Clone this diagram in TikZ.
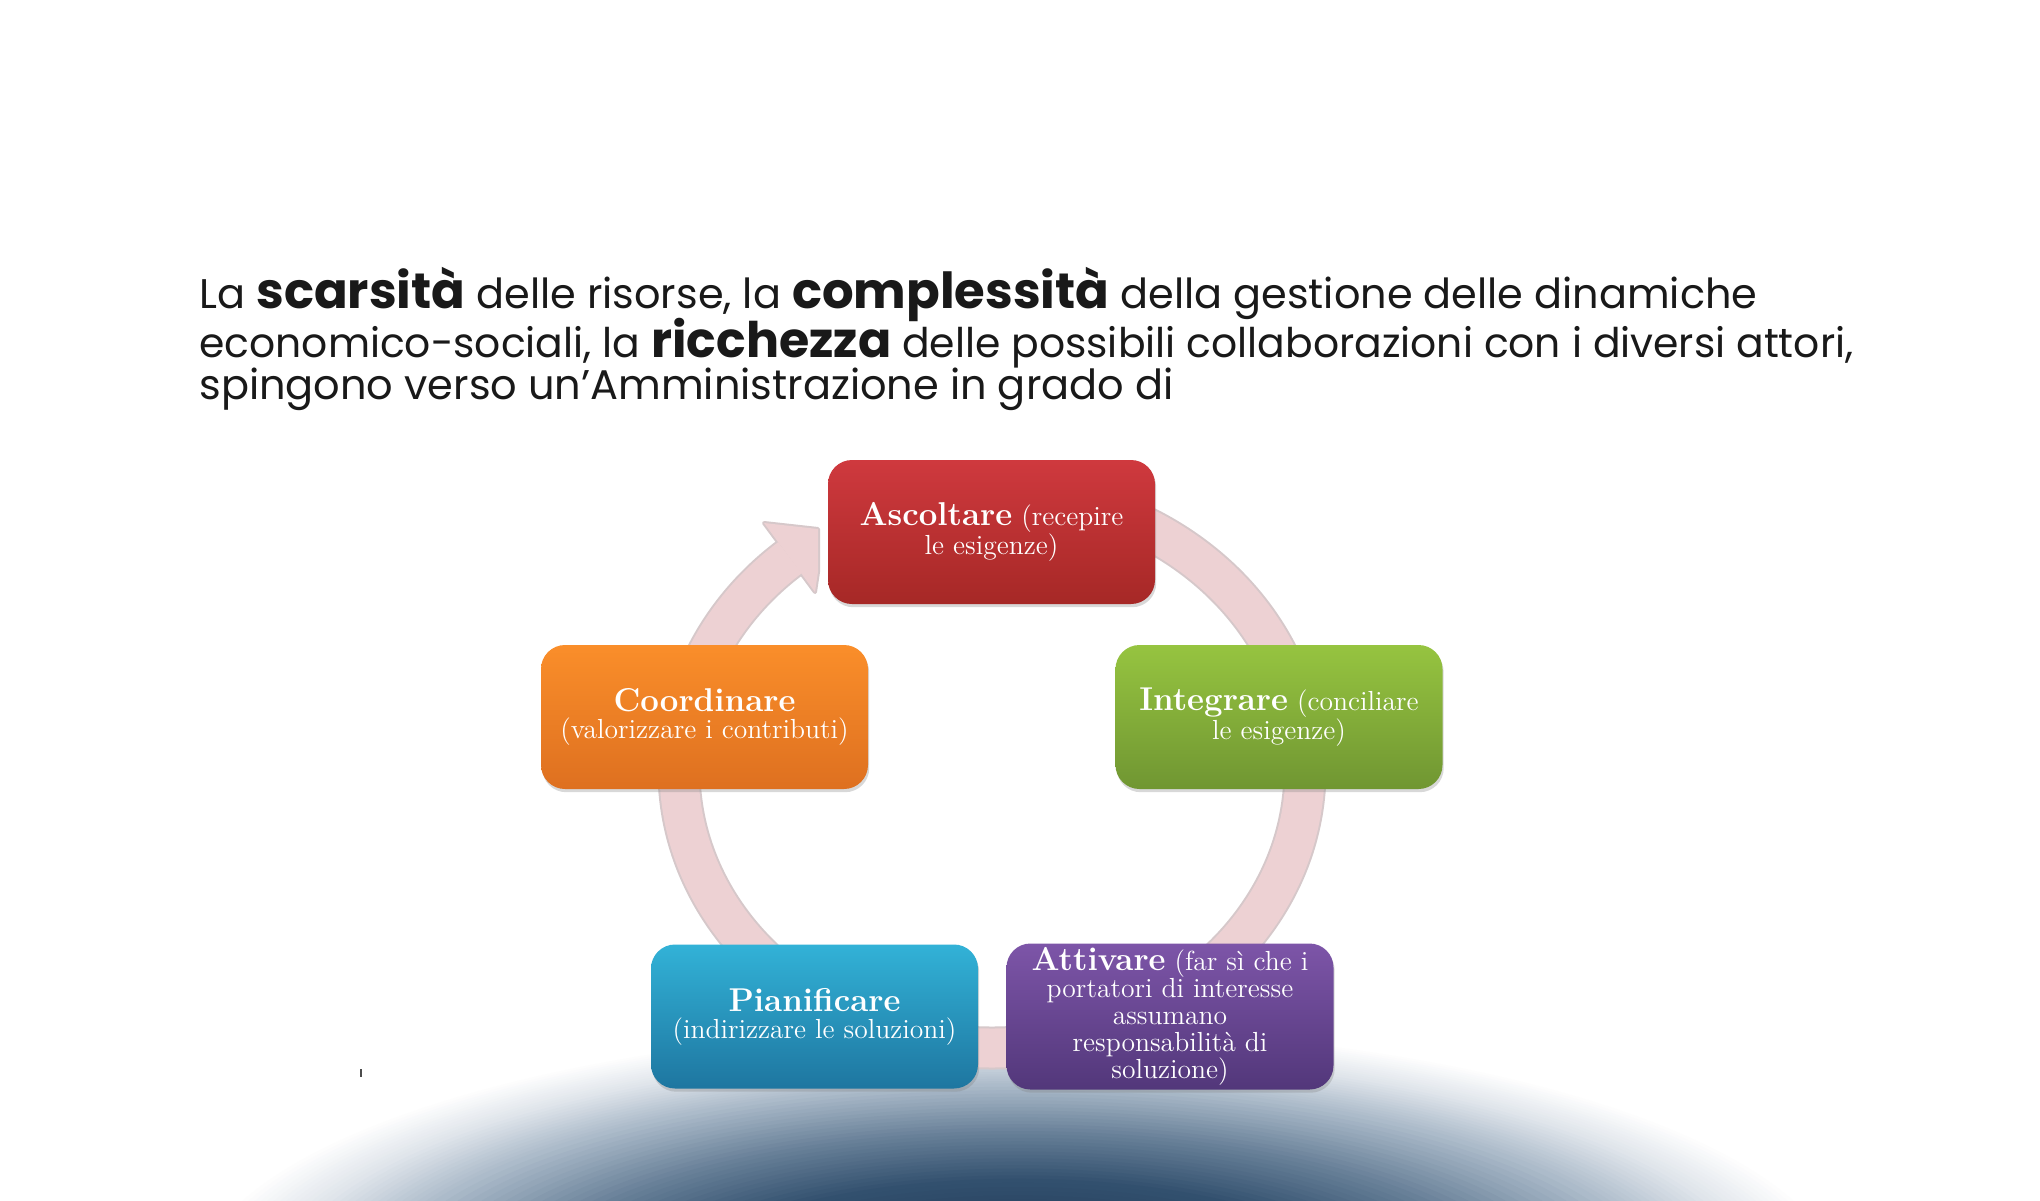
\documentclass[tikz,border=0pt]{standalone}
\usepackage{fontspec}
\newfontfamily\headfont{Poppins}
\usetikzlibrary{shadows}
\definecolor{hzA}{RGB}{36,60,90}
\definecolor{hzB}{RGB}{50,80,110}
\definecolor{hzC}{RGB}{104,128,152}
\definecolor{hzD}{RGB}{172,187,202}
\definecolor{hzE}{RGB}{224,229,235}
\definecolor{ringfill}{RGB}{237,209,211}
\definecolor{ringedge}{RGB}{214,200,202}
\definecolor{redT}{RGB}{207,57,62}
\definecolor{redB}{RGB}{166,40,38}
\definecolor{orT}{RGB}{250,142,42}
\definecolor{orB}{RGB}{222,112,32}
\definecolor{grT}{RGB}{150,196,64}
\definecolor{grB}{RGB}{112,150,50}
\definecolor{blT}{RGB}{50,178,215}
\definecolor{blB}{RGB}{30,118,160}
\definecolor{puT}{RGB}{125,85,168}
\definecolor{puB}{RGB}{82,55,122}
\definecolor{headtext}{RGB}{25,25,25}
\newcommand\HeadBold[1]{{\fontsize{24pt}{24pt}\selectfont\bfseries #1}}
\newcommand\BoxBold[1]{{\fontsize{16.5pt}{13.5pt}\selectfont\bfseries #1}}
\tikzset{
  headline/.style={inner sep=0pt, anchor=base west, text=headtext,
    font=\headfont\fontsize{20pt}{24pt}\selectfont},
  cyclebox/.style={rounded corners=12pt, minimum width=163.5pt, minimum height=72pt,
    inner sep=2pt, text=white, align=center,
    font=\fontsize{13.8pt}{13.5pt}\selectfont,
    drop shadow={opacity=0.3, shadow xshift=0.6pt, shadow yshift=-1.6pt}},
  ringedgeline/.style={line width=21.5pt, draw=ringedge},
  ringfillline/.style={line width=19.5pt, draw=ringfill},
  ringarc/.style={x radius=313, y radius=278, start angle=-90, end angle=229.8}
}
\begin{document}
\begin{tikzpicture}[x=0.5pt,y=-0.5pt]
\useasboundingbox (0,0) rectangle (2040,1200);
\fill[white] (0,0) rectangle (2040,1200);
% horizon background: concentric ellipses stepping from white to dark blue
\coordinate (hz) at (1018,1290);
\begin{scope}
  \clip (0,0) rectangle (2040,1200);
  \foreach \ra/\rb/\ca/\cb in {1.0/0.9/white/hzE, 0.9/0.78/hzE/hzD, 0.78/0.6/hzD/hzC, 0.6/0.42/hzC/hzB, 0.42/0.2/hzB/hzA} {
    \foreach \k in {0,...,13} {
      \pgfmathsetmacro\rr{\ra-(\ra-\rb)*\k/14}
      \pgfmathsetmacro\pp{100*\k/14}
      \fill[\cb!\pp!\ca] (hz) ellipse [x radius=830*\rr, y radius=265*\rr];
    }
  }
\end{scope}
% heading
\node[headline] (l1) at (199,308) {\resizebox{779pt}{!}{La \HeadBold{scarsità} delle risorse, la \HeadBold{complessità} della gestione delle dinamiche}};
\node[headline] (l2) at (199,357) {\resizebox{827pt}{!}{economico-sociali, la \HeadBold{ricchezza} delle possibili collaborazioni con i diversi attori,}};
\node[headline] (l3) at (199,399) {\resizebox{487pt}{!}{spingono verso un’Amministrazione in grado di}};
% ring (ellipse centre (992,770), radii 313 x 278)
\coordinate (rtop) at (992,492);
\coordinate (h1) at (764,523);
\coordinate (h2) at (818,529);
\coordinate (h3) at (818,572);
\coordinate (h4) at (815,592);
\draw[ringedgeline] (rtop) arc[ringarc];
\filldraw[fill=ringedge, draw=ringedge, line width=2pt, line join=round] (h1) -- (h2) -- (h3) -- (h4) -- cycle;
\draw[ringfillline] (rtop) arc[ringarc];
\fill[ringfill] (h1) -- (h2) -- (h3) -- (h4) -- cycle;
% boxes
\node[cyclebox, top color=redT, bottom color=redB] (asc) at (991.5,532)
  {\BoxBold{Ascoltare} (recepire\\le esigenze)};
\node[cyclebox, top color=grT, bottom color=grB] (int) at (1279,717)
  {\BoxBold{Integrare} (conciliare\\le esigenze)};
\node[cyclebox, top color=puT, bottom color=puB] (att) at (1170,1016.5)
  {\BoxBold{Attivare} (far sì che i\\portatori di interesse\\assumano\\responsabilità di\\soluzione)};
\node[cyclebox, top color=blT, bottom color=blB] (pia) at (814.5,1016.5)
  {\BoxBold{Pianificare}\\(indirizzare le soluzioni)};
\node[cyclebox, top color=orT, bottom color=orB] (coo) at (704.5,717)
  {\BoxBold{Coordinare}\\(valorizzare i contributi)};
% small tick mark
\coordinate (tk1) at (361,1069);
\coordinate (tk2) at (361,1077);
\draw[line width=0.6pt, black!70] (tk1) -- (tk2);
\end{tikzpicture}
\end{document}
